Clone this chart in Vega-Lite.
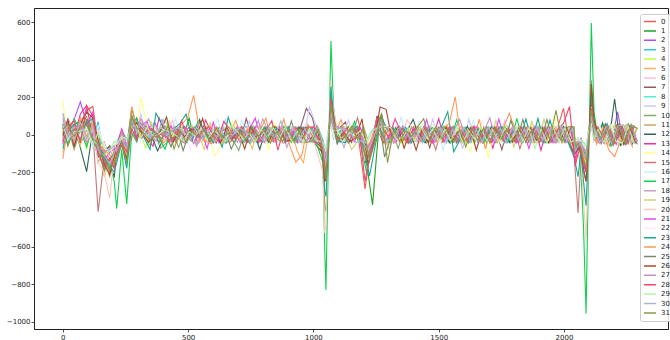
{
"$schema":"https://vega.github.io/schema/vega-lite/v6.json",
"width":634,"height":321,
"autosize":{"type":"none"},
"padding":{"left":34,"top":8,"right":2,"bottom":11},
"background":"white",
"config":{"view":{"stroke":"#222","strokeWidth":1},"font":"DejaVu Sans",
"axis":{"domainColor":"#222","tickColor":"#222","labelColor":"#222","labelFontSize":7,"tickSize":3,"labelPadding":1,"grid":false,"title":null,"domainWidth":1,"tickWidth":0.8,"format":"d"}},
"data":{"values":[
{"x":0,"0":20,"1":35,"2":-10,"3":60,"4":-30,"5":-95,"6":40,"7":10,"8":-60,"9":75,"10":15,"11":-40,"12":55,"13":-20,"14":190,"15":30,"16":-45,"17":5,"18":110,"19":-15,"20":70,"21":-50,"22":25,"23":-75,"24":-130,"25":45,"26":-5,"27":90,"28":-35,"29":50,"30":115,"31":30},
{"x":20,"0":45,"1":-20,"2":30,"3":-55,"4":60,"5":20,"6":-35,"7":75,"8":10,"9":-40,"10":50,"11":85,"12":-25,"13":40,"14":-70,"15":5,"16":60,"17":-45,"18":20,"19":-10,"20":35,"21":65,"22":-30,"23":15,"24":45,"25":-60,"26":80,"27":-15,"28":30,"29":-25,"30":10,"31":55},
{"x":45,"0":-30,"1":55,"2":80,"3":20,"4":-45,"5":70,"6":15,"7":-60,"8":40,"9":30,"10":-80,"11":25,"12":60,"13":-15,"14":45,"15":-35,"16":20,"17":85,"18":-50,"19":40,"20":-20,"21":10,"22":70,"23":55,"24":-40,"25":30,"26":-65,"27":45,"28":75,"29":15,"30":-30,"31":-10},
{"x":70,"0":60,"1":30,"2":175,"3":-25,"4":40,"5":-50,"6":85,"7":30,"8":-20,"9":65,"10":20,"11":-35,"12":-70,"13":110,"14":15,"15":50,"16":-40,"17":25,"18":80,"19":-60,"20":45,"21":30,"22":-15,"23":70,"24":90,"25":-25,"26":55,"27":35,"28":-45,"29":20,"30":65,"31":40},
{"x":95,"0":130,"1":-40,"2":60,"3":50,"4":-75,"5":25,"6":40,"7":95,"8":-30,"9":15,"10":70,"11":-20,"12":-198,"13":155,"14":-50,"15":80,"16":35,"17":-65,"18":20,"19":90,"20":-30,"21":55,"22":40,"23":60,"24":-10,"25":75,"26":120,"27":-45,"28":155,"29":30,"30":-20,"31":50},
{"x":120,"0":150,"1":80,"2":110,"3":-45,"4":60,"5":-35,"6":70,"7":-20,"8":85,"9":40,"10":-60,"11":95,"12":30,"13":-25,"14":45,"15":10,"16":-70,"17":50,"18":-15,"19":65,"20":25,"21":120,"22":-40,"23":88,"24":55,"25":-30,"26":90,"27":15,"28":100,"29":-55,"30":40,"31":-20},
{"x":141,"0":-60,"1":20,"2":-85,"3":70,"4":-110,"5":40,"6":-45,"7":-120,"8":15,"9":-90,"10":35,"11":-150,"12":-60,"13":-30,"14":-75,"15":-412,"16":50,"17":-95,"18":-40,"19":-20,"20":-150,"21":-70,"22":25,"23":-110,"24":-50,"25":-85,"26":-30,"27":-65,"28":-100,"29":10,"30":-80,"31":-45},
{"x":165,"0":-120,"1":-90,"2":-40,"3":-150,"4":-70,"5":-180,"6":-60,"7":-100,"8":-135,"9":-50,"10":-210,"11":-85,"12":-110,"13":-160,"14":-45,"15":-130,"16":-75,"17":-170,"18":-95,"19":-225,"20":-200,"21":-140,"22":-60,"23":-120,"24":-80,"25":-190,"26":-155,"27":-90,"28":-175,"29":-70,"30":-110,"31":-140},
{"x":187,"0":-200,"1":-60,"2":-130,"3":-80,"4":-170,"5":-110,"6":-150,"7":-60,"8":-95,"9":-120,"10":-70,"11":-230,"12":-140,"13":-90,"14":-160,"15":-180,"16":-100,"17":-150,"18":-75,"19":-140,"20":-340,"21":-95,"22":-120,"23":-170,"24":-110,"25":-135,"26":-215,"27":-80,"28":-125,"29":-90,"30":-160,"31":-190},
{"x":205,"0":-80,"1":-150,"2":-60,"3":-120,"4":-40,"5":-95,"6":-110,"7":-170,"8":-50,"9":-85,"10":-130,"11":-70,"12":-230,"13":-100,"14":-60,"15":-140,"16":-45,"17":-250,"18":-90,"19":-160,"20":-110,"21":-75,"22":-40,"23":-200,"24":-130,"25":-95,"26":-120,"27":-60,"28":-180,"29":-35,"30":-100,"31":-150},
{"x":215,"0":-130,"1":-90,"2":-110,"3":-70,"4":-95,"5":-60,"6":-80,"7":-120,"8":-40,"9":-100,"10":-75,"11":-140,"12":-90,"13":-60,"14":-110,"15":-50,"16":-85,"17":-395,"18":-70,"19":-130,"20":-120,"21":-95,"22":-50,"23":-150,"24":-80,"25":-110,"26":-60,"27":-90,"28":-100,"29":-45,"30":-70,"31":-120},
{"x":235,"0":-40,"1":-20,"2":-60,"3":10,"4":-30,"5":5,"6":-50,"7":-10,"8":20,"9":-45,"10":15,"11":-25,"12":-70,"13":30,"14":-15,"15":-35,"16":0,"17":-80,"18":-55,"19":-5,"20":-65,"21":25,"22":-20,"23":-40,"24":10,"25":-30,"26":-60,"27":15,"28":-45,"29":-10,"30":-25,"31":-50},
{"x":255,"0":-110,"1":-60,"2":-80,"3":-30,"4":-130,"5":-50,"6":-70,"7":-95,"8":-20,"9":-60,"10":-140,"11":-85,"12":-100,"13":-45,"14":-75,"15":-120,"16":-30,"17":-370,"18":-90,"19":-110,"20":-160,"21":-70,"22":-40,"23":-180,"24":-100,"25":-65,"26":-130,"27":-55,"28":-90,"29":-25,"30":-75,"31":-150},
{"x":275,"0":60,"1":140,"2":20,"3":45,"4":-10,"5":70,"6":30,"7":90,"8":15,"9":50,"10":110,"11":-20,"12":70,"13":35,"14":60,"15":20,"16":40,"17":10,"18":85,"19":30,"20":25,"21":65,"22":10,"23":50,"24":150,"25":95,"26":40,"27":70,"28":30,"29":45,"30":80,"31":100},
{"x":295,"0":20,"1":40,"2":85,"3":-30,"4":60,"5":10,"6":-20,"7":50,"8":75,"9":25,"10":-35,"11":80,"12":15,"13":60,"14":-10,"15":45,"16":30,"17":-40,"18":20,"19":70,"20":10,"21":-25,"22":55,"23":90,"24":40,"25":-15,"26":65,"27":25,"28":-30,"29":50,"30":15,"31":35},
{"x":311,"0":50,"1":-10,"2":30,"3":70,"4":15,"5":65,"6":40,"7":-25,"8":35,"9":110,"10":55,"11":20,"12":-15,"13":45,"14":195,"15":-20,"16":60,"17":35,"18":-5,"19":40,"20":80,"21":50,"22":-30,"23":20,"24":-10,"25":60,"26":15,"27":85,"28":40,"29":-20,"30":55,"31":25},
{"x":330,"0":-25,"4":-75,"8":-10,"12":50,"16":-35,"20":-5,"24":35,"28":15},
{"x":336,"1":12,"5":-8,"9":-5,"13":-18,"17":10,"21":70,"25":5,"29":40},
{"x":342,"2":-40,"6":22,"10":41,"14":25,"18":85,"22":2,"26":-40,"30":-10},
{"x":348,"3":15,"7":35,"11":-60,"15":45,"19":-45,"23":-80,"27":-5,"31":-30},
{"x":354,"0":8,"4":67,"8":-14,"12":-6,"16":22,"20":41,"24":-19,"28":33},
{"x":360,"1":-31,"5":15,"9":46,"13":-62,"17":4,"21":-12,"25":29,"29":-8},
{"x":366,"2":69,"6":-43,"10":7,"14":-28,"18":12,"22":35,"26":-5,"30":4},
{"x":372,"3":-9,"7":16,"11":31,"15":-20,"19":38,"23":114,"27":-33,"31":6},
{"x":378,"0":34,"4":-17,"8":5,"12":-87,"16":-48,"20":13,"24":6,"28":-11},
{"x":384,"1":21,"5":-36,"9":-7,"13":90,"17":-19,"21":8,"25":-44,"29":3},
{"x":390,"2":-15,"6":9,"10":-72,"14":47,"18":-6,"22":-8,"26":18,"30":39},
{"x":396,"3":28,"7":-41,"11":-4,"15":11,"19":-14,"23":52,"27":80,"31":-23},
{"x":402,"0":-12,"4":38,"8":79,"12":-20,"16":6,"20":-33,"24":-45,"28":17},
{"x":408,"1":44,"5":2,"9":-25,"13":16,"17":-77,"21":-10,"25":13,"29":25},
{"x":414,"2":30,"6":-19,"10":-44,"14":3,"18":41,"22":-27,"26":94,"30":-6},
{"x":420,"3":-35,"7":23,"11":12,"15":-42,"19":67,"23":-8,"27":-16,"31":49},
{"x":426,"0":16,"4":-29,"8":43,"12":9,"16":-18,"20":75,"24":-7,"28":-36},
{"x":432,"1":-5,"5":31,"9":-40,"13":-28,"17":20,"21":46,"25":-65,"29":12},
{"x":438,"2":-22,"6":77,"10":14,"14":-9,"18":-34,"22":10,"26":-48,"30":26},
{"x":444,"3":7,"7":-26,"11":39,"15":24,"19":-11,"23":33,"27":41,"31":-77},
{"x":450,"0":-38,"4":11,"8":-21,"12":35,"16":84,"20":-6,"24":19,"28":-27},
{"x":456,"1":26,"5":-44,"9":18,"13":7,"17":-31,"21":-23,"25":36,"29":-9},
{"x":462,"2":4,"6":-13,"10":-69,"14":42,"18":17,"22":-37,"26":23,"30":38},
{"x":468,"3":-24,"7":45,"11":-33,"15":-5,"19":30,"23":60,"27":-2,"31":22},
{"x":474,"0":29,"4":-40,"8":8,"12":-14,"16":-25,"20":37,"24":55,"28":74},
{"x":480,"1":-17,"5":20,"9":33,"13":-41,"17":42,"21":5,"25":-86,"29":-35},
{"x":486,"2":43,"6":-8,"10":21,"14":-30,"18":-45,"22":28,"26":-12,"30":9},
{"x":492,"3":13,"7":-32,"11":-18,"15":36,"19":-3,"23":110,"27":27,"31":-44},
{"x":498,"0":-6,"4":24,"8":-43,"12":19,"16":32,"20":-28,"24":90,"28":-20},
{"x":504,"1":88,"5":-13,"9":-2,"13":27,"17":-24,"21":39,"25":8,"29":15},
{"x":510,"2":-31,"6":29,"10":44,"14":-16,"18":6,"22":-80,"26":31,"30":-26},
{"x":516,"3":40,"7":3,"11":-36,"15":-12,"19":48,"23":-21,"27":-39,"31":18},
{"x":522,"0":21,"4":-34,"8":36,"12":-45,"16":-9,"20":15,"24":210,"28":30},
{"x":528,"1":-42,"5":26,"9":-19,"13":12,"17":35,"21":-30,"25":44,"29":-7},
{"x":534,"2":11,"6":-46,"10":-14,"14":27,"18":-63,"22":16,"26":-8,"30":42},
{"x":540,"3":-18,"7":30,"11":25,"15":-37,"19":9,"23":74,"27":-47,"31":-13},
{"x":546,"0":-30,"4":7,"8":-22,"12":80,"16":18,"20":-43,"24":20,"28":-15},
{"x":552,"1":14,"5":-38,"9":41,"13":-27,"17":-6,"21":22,"25":-19,"29":33},
{"x":558,"2":-36,"6":12,"10":26,"14":-41,"18":37,"22":-4,"26":85,"30":-22},
{"x":564,"3":35,"7":-15,"11":-29,"15":8,"19":-80,"23":19,"27":12,"31":28},
{"x":570,"0":42,"4":-21,"8":13,"12":-8,"16":-33,"20":27,"24":-36,"28":78},
{"x":576,"1":-23,"5":43,"9":-11,"13":36,"17":15,"21":-75,"25":5,"29":-29},
{"x":582,"2":25,"6":-35,"10":38,"14":6,"18":-20,"22":31,"26":-27,"30":14},
{"x":588,"3":-27,"7":18,"11":-7,"15":44,"19":63,"23":-42,"27":33,"31":-38},
{"x":594,"0":-14,"4":33,"8":-39,"12":24,"16":10,"20":-17,"24":-49,"28":6},
{"x":600,"1":30,"5":-9,"9":27,"13":-45,"17":-28,"21":66,"25":-41,"29":21},
{"x":606,"2":-7,"6":40,"10":-24,"14":-115,"18":29,"22":-33,"26":15,"30":-40},
{"x":612,"3":19,"7":-45,"11":43,"15":-19,"19":-34,"23":8,"27":-11,"31":37},
{"x":618,"0":36,"4":-26,"8":17,"12":-31,"16":83,"20":-9,"24":28,"28":-34},
{"x":624,"1":-40,"5":24,"9":-35,"13":9,"17":39,"21":-44,"25":18,"29":3},
{"x":630,"2":33,"6":-21,"10":8,"14":-60,"18":-37,"22":42,"26":-44,"30":27},
{"x":636,"3":-8,"7":37,"11":-25,"15":30,"19":16,"23":-67,"27":42,"31":-20},
{"x":642,"0":-19,"4":45,"8":-5,"12":21,"16":-28,"20":34,"24":-40,"28":71},
{"x":648,"1":17,"5":-31,"9":80,"13":-20,"17":-45,"21":7,"25":29,"29":-37},
{"x":654,"2":-44,"6":6,"10":35,"14":19,"18":22,"22":-16,"26":38,"30":-31},
{"x":660,"3":29,"7":-19,"11":-41,"15":13,"19":-36,"23":93,"27":-14,"31":9},
{"x":666,"0":26,"4":-12,"8":39,"12":-42,"16":14,"20":-38,"24":9,"28":31},
{"x":672,"1":-33,"5":41,"9":-16,"13":32,"17":23,"21":-25,"25":-77,"29":45},
{"x":678,"2":16,"6":-38,"10":-27,"14":71,"18":-11,"22":29,"26":-21,"30":-3},
{"x":684,"3":-42,"7":10,"11":34,"15":-28,"19":40,"23":-6,"27":25,"31":-46},
{"x":690,"0":-35,"4":30,"8":-28,"12":6,"16":-44,"20":20,"24":76,"28":-24},
{"x":696,"1":8,"5":-20,"9":31,"13":-39,"17":34,"21":44,"25":-12,"29":18},
{"x":702,"2":38,"6":25,"10":-85,"14":-13,"18":33,"22":-41,"26":12,"30":36},
{"x":708,"3":21,"7":-39,"11":16,"15":41,"19":-23,"23":30,"27":-44,"31":13},
{"x":714,"0":12,"4":-43,"8":24,"12":37,"16":79,"20":-31,"24":-15,"28":44},
{"x":720,"1":-28,"5":35,"9":-43,"13":14,"17":-41,"21":-8,"25":39,"29":-26},
{"x":726,"2":-23,"6":-14,"10":19,"14":30,"18":-42,"22":8,"26":-76,"30":22},
{"x":732,"3":44,"7":86,"11":-33,"15":-17,"19":11,"23":-37,"27":19,"31":-29},
{"x":738,"0":-41,"4":19,"8":-11,"12":-29,"16":-22,"20":43,"24":31,"28":-17},
{"x":744,"1":36,"5":-27,"9":72,"13":-33,"17":18,"21":27,"25":-46,"29":8},
{"x":750,"2":7,"6":43,"10":-38,"14":-24,"18":27,"22":-29,"26":41,"30":-45},
{"x":756,"3":-31,"7":-12,"11":45,"15":27,"19":-78,"23":14,"27":-28,"31":40},
{"x":762,"0":33,"4":-36,"8":45,"12":16,"16":-39,"20":-14,"24":-42,"28":25},
{"x":768,"1":-12,"5":19,"9":-29,"13":43,"17":-30,"21":88,"25":22,"29":-41},
{"x":774,"2":-39,"6":32,"10":27,"14":11,"18":-16,"22":37,"26":-19,"30":10},
{"x":780,"3":16,"7":-44,"11":-20,"15":-35,"19":43,"23":-23,"27":76,"31":-9},
{"x":786,"0":-22,"4":28,"8":-33,"12":-79,"16":36,"20":24,"24":17,"28":-38},
{"x":792,"1":41,"5":-42,"9":37,"13":-14,"17":9,"21":-40,"25":-31,"29":29},
{"x":798,"2":29,"6":-27,"10":-40,"14":36,"18":84,"22":-18,"26":26,"30":-33},
{"x":804,"3":-37,"7":33,"11":29,"15":-10,"19":-26,"23":41,"27":-43,"31":24},
{"x":810,"0":40,"4":-9,"8":22,"12":31,"16":-46,"20":-35,"24":88,"28":18},
{"x":816,"1":-19,"5":30,"9":-44,"13":26,"17":-35,"21":13,"25":43,"29":-15},
{"x":822,"2":-33,"6":38,"10":11,"14":-83,"18":7,"22":35,"26":-41,"30":41},
{"x":828,"3":28,"7":-23,"11":-38,"15":37,"19":34,"23":-16,"27":9,"31":-45},
{"x":834,"0":-27,"4":41,"8":-37,"12":8,"16":20,"20":-22,"24":-33,"28":75},
{"x":840,"1":29,"5":-15,"9":18,"13":-38,"17":44,"21":-29,"25":-22,"29":36},
{"x":846,"2":12,"6":-41,"10":34,"14":63,"18":-35,"22":-24,"26":44,"30":-14},
{"x":852,"3":-44,"7":39,"11":20,"15":-21,"19":-40,"23":31,"27":-35,"31":16},
{"x":858,"0":18,"4":-31,"8":41,"12":-26,"16":39,"20":30,"24":-12,"28":-83},
{"x":864,"1":-38,"5":44,"9":-26,"13":41,"17":-13,"21":35,"25":28,"29":-20},
{"x":870,"2":-28,"6":20,"10":-18,"14":-37,"18":38,"22":-42,"26":16,"30":73},
{"x":876,"3":37,"7":-29,"11":-44,"15":33,"19":25,"23":-11,"27":40,"31":-36},
{"x":882,"0":-44,"4":14,"8":-26,"12":43,"16":-17,"20":-41,"24":83,"28":27},
{"x":888,"1":23,"5":-34,"9":35,"13":-17,"17":31,"21":-45,"25":-40,"29":41},
{"x":894,"2":35,"6":-36,"10":43,"14":15,"18":-69,"22":26,"26":-33,"30":-27},
{"x":900,"3":-14,"7":42,"11":-31,"15":-40,"19":17,"23":38,"27":-22,"31":30},
{"x":906,"0":31,"4":-38,"8":19,"12":-34,"16":42,"20":17,"24":-60,"28":-29},
{"x":912,"1":-26,"5":25,"9":-38,"13":37,"17":-42,"21":18,"25":73,"29":-33},
{"x":918,"2":-18,"6":33,"10":-30,"14":-42,"18":21,"22":40,"26":-28,"30":45},
{"x":924,"3":41,"7":-17,"11":36,"15":18,"19":-43,"23":-27,"27":31,"31":-40},
{"x":930,"0":-24,"4":26,"8":-44,"12":21,"16":-31,"20":35,"24":-147,"28":40},
{"x":936,"1":34,"5":-90,"9":29,"13":-43,"17":36,"21":-33,"25":-28,"29":17},
{"x":942,"2":42,"6":-24,"10":16,"14":38,"18":-40,"22":-20,"26":39,"30":-36},
{"x":948,"3":-33,"7":36,"11":-15,"15":-38,"19":28,"23":43,"27":-41,"31":26},
{"x":954,"0":38,"4":-42,"8":33,"12":-27,"16":15,"20":-46,"24":-110,"28":-31},
{"x":960,"1":-41,"5":-150,"9":-22,"13":30,"17":-37,"21":40,"25":35,"29":-44},
{"x":966,"2":-29,"6":44,"10":-45,"14":-26,"18":39,"22":-34,"26":21,"30":31},
{"x":972,"3":24,"7":140,"11":42,"15":-29,"19":-33,"23":18,"27":-36,"31":-42},
{"x":978,"0":-32,"4":37,"8":-18,"12":44,"16":-40,"20":27,"24":55,"28":36},
{"x":984,"1":27,"5":25,"9":147,"13":-36,"17":41,"21":-21,"25":40,"29":33},
{"x":990,"2":36,"6":-31,"10":40,"14":33,"18":35,"22":45,"26":-27,"30":-38},
{"x":996,"3":-40,"7":90,"11":28,"15":40,"19":-42,"23":33,"27":29,"31":-33},
{"x":1002,"0":44,"4":-25,"8":40,"12":-41,"16":30,"20":-36,"24":-30,"28":42},
{"x":1008,"1":-36,"5":33,"9":60,"13":38,"17":-30,"21":-44,"25":-41,"29":-29},
{"x":1014,"2":-42,"6":26,"10":-37,"14":-33,"18":-28,"22":38,"26":45,"30":40},
{"x":1020,"3":35,"7":-38,"11":-40,"15":29,"19":37,"23":-23,"27":-33,"31":28},
{"x":1038,"0":-60,"1":-40,"2":-80,"3":-30,"4":-55,"5":-70,"6":-45,"7":-90,"8":-35,"9":-60,"10":-75,"11":-50,"12":-100,"13":-40,"14":-65,"15":-120,"16":-50,"17":-150,"18":-70,"19":-60,"20":-200,"21":-45,"22":-55,"23":-110,"24":-85,"25":-70,"26":-130,"27":-50,"28":-95,"29":-40,"30":-60,"31":-80},
{"x":1045,"0":-150,"1":-90,"2":-120,"3":-80,"4":-110,"5":-100,"6":-70,"7":-180,"8":-60,"9":-95,"10":-130,"11":-160,"12":-220,"13":-85,"14":-120,"15":-380,"16":-75,"17":-600,"18":-110,"19":-140,"20":-525,"21":-95,"22":-70,"23":-300,"24":-150,"25":-170,"26":-250,"27":-90,"28":-200,"29":-65,"30":-120,"31":-200},
{"x":1050,"0":-200,"1":-140,"2":-100,"3":-120,"4":-90,"5":-130,"6":-95,"7":-210,"8":-80,"9":-110,"10":-160,"11":-190,"12":-250,"13":-120,"14":-100,"15":-410,"16":-90,"17":-830,"18":-130,"19":-170,"20":-480,"21":-140,"22":-90,"23":-330,"24":-180,"25":-200,"26":-230,"27":-110,"28":-220,"29":-80,"30":-150,"31":-240},
{"x":1058,"0":-40,"1":-20,"2":-60,"3":0,"4":-30,"5":-15,"6":10,"7":-80,"8":20,"9":-40,"10":-50,"11":-70,"12":-100,"13":-30,"14":-10,"15":-150,"16":5,"17":-250,"18":-35,"19":-60,"20":-100,"21":-40,"22":15,"23":-120,"24":-55,"25":-75,"26":-90,"27":-25,"28":-70,"29":10,"30":-45,"31":-90},
{"x":1070,"0":120,"1":80,"2":140,"3":60,"4":90,"5":70,"6":110,"7":180,"8":50,"9":90,"10":140,"11":160,"12":200,"13":100,"14":70,"15":220,"16":60,"17":500,"18":110,"19":130,"20":285,"21":90,"22":60,"23":255,"24":150,"25":170,"26":175,"27":80,"28":190,"29":50,"30":120,"31":160},
{"x":1080,"0":40,"1":10,"2":60,"3":-20,"4":30,"5":45,"6":20,"7":70,"8":-10,"9":35,"10":55,"11":80,"12":60,"13":25,"14":-15,"15":90,"16":15,"17":150,"18":40,"19":65,"20":140,"21":30,"22":-5,"23":110,"24":70,"25":50,"26":95,"27":35,"28":80,"29":20,"30":45,"31":70},
{"x":1095,"0":-30,"1":20,"2":-45,"3":35,"4":-20,"5":10,"6":-35,"7":25,"8":40,"9":-25,"10":-40,"11":20,"12":-30,"13":45,"14":-15,"15":30,"16":-45,"17":-20,"18":35,"19":-30,"20":25,"21":-40,"22":20,"23":-35,"24":30,"25":-50,"26":-25,"27":40,"28":-20,"29":25,"30":35,"31":-30},
{"x":1110,"0":31,"4":-22,"8":14,"12":-38,"16":25,"20":-9,"24":80,"28":-17},
{"x":1116,"1":-27,"5":36,"9":-12,"13":19,"17":43,"21":-31,"25":8,"29":-40},
{"x":1122,"2":22,"6":-35,"10":41,"14":-14,"18":-68,"22":37,"26":11,"30":29},
{"x":1128,"3":-39,"7":67,"11":-25,"15":33,"19":6,"23":-43,"27":30,"31":-13},
{"x":1134,"0":-18,"4":40,"8":-33,"12":27,"16":-41,"20":15,"24":-26,"28":35},
{"x":1140,"1":42,"5":-19,"9":78,"13":-37,"17":-10,"21":24,"25":-45,"29":13},
{"x":1146,"2":-36,"6":9,"10":-23,"14":44,"18":31,"22":-20,"26":-38,"30":16},
{"x":1152,"3":26,"7":-42,"11":38,"15":-11,"19":-80,"23":21,"27":-17,"31":44},
{"x":1158,"0":45,"4":-31,"8":26,"12":-8,"16":12,"20":-44,"24":33,"28":-23},
{"x":1164,"1":-14,"5":29,"9":-40,"13":34,"17":70,"21":-36,"25":27,"29":-7},
{"x":1170,"2":18,"6":-26,"10":37,"14":-33,"18":40,"22":12,"26":-15,"30":-42},
{"x":1176,"3":-29,"7":33,"11":-19,"15":90,"19":-37,"23":45,"27":10,"31":-24},
{"x":1182,"0":-38,"4":13,"8":-42,"12":36,"16":-20,"20":30,"24":-11,"28":41},
{"x":1188,"1":25,"5":-43,"9":16,"13":-21,"17":-48,"21":33,"25":-35,"29":22},
{"x":1194,"2":-41,"6":35,"10":-12,"14":19,"18":-27,"22":-39,"26":84,"30":-30},
{"x":1200,"3":37,"7":-15,"11":43,"15":-36,"19":24,"23":-70,"27":-28,"31":32},
{"x":1206,"0":-290,"4":-95,"8":-50,"12":-150,"16":-55,"20":-140,"24":-100,"28":-250},
{"x":1212,"1":-150,"5":-45,"9":-90,"13":-80,"17":-200,"21":-85,"25":-130,"29":-50},
{"x":1218,"2":-80,"6":-70,"10":-110,"14":-40,"18":-70,"22":-45,"26":-160,"30":-90},
{"x":1224,"3":-60,"7":-130,"11":-60,"15":-120,"19":-95,"23":-220,"27":-75,"31":-140},
{"x":1230,"0":-60,"4":-20,"8":15,"12":-60,"16":10,"20":-40,"24":-30,"28":-90},
{"x":1236,"1":-375,"5":-10,"9":-30,"13":-20,"17":-60,"21":-25,"25":-50,"29":20},
{"x":1242,"2":-20,"6":15,"10":-35,"14":25,"18":-15,"22":20,"26":-40,"30":-10},
{"x":1248,"3":-15,"7":40,"11":-10,"15":-30,"19":-20,"23":-50,"27":25,"31":-25},
{"x":1254,"0":40,"4":30,"8":50,"12":100,"16":35,"20":70,"24":80,"28":90},
{"x":1260,"1":20,"5":70,"9":90,"13":55,"17":90,"21":50,"25":100,"29":40},
{"x":1266,"2":80,"6":45,"10":60,"14":40,"18":60,"22":45,"26":147,"30":75},
{"x":1272,"3":60,"7":110,"11":80,"15":75,"19":85,"23":95,"27":65,"31":110},
{"x":1278,"0":-45,"4":35,"8":20,"12":-40,"16":-25,"20":30,"24":-35,"28":25},
{"x":1284,"1":30,"5":-45,"9":-20,"13":40,"17":-35,"21":-40,"25":-120,"29":45},
{"x":1290,"2":45,"6":-30,"10":-50,"14":30,"18":40,"22":-15,"26":135,"30":-35},
{"x":1296,"3":-25,"7":-30,"11":30,"15":-45,"19":-35,"23":20,"27":30,"31":-150},
{"x":1302,"0":28,"4":-37,"8":44,"12":-24,"16":16,"20":-81,"24":35,"28":-12},
{"x":1308,"1":-33,"5":20,"9":-27,"13":42,"17":-44,"21":11,"25":-18,"29":38},
{"x":1314,"2":17,"6":-43,"10":32,"14":-39,"18":25,"22":80,"26":-28,"30":-19},
{"x":1320,"3":41,"7":-14,"11":-36,"15":23,"19":-30,"23":34,"27":-46,"31":27},
{"x":1326,"0":-42,"4":26,"8":-17,"12":38,"16":-35,"20":22,"24":-9,"28":84},
{"x":1332,"1":35,"5":-30,"9":43,"13":-12,"17":28,"21":-37,"25":24,"29":-27},
{"x":1338,"2":-24,"6":39,"10":-74,"14":14,"18":-20,"22":-31,"26":42,"30":33},
{"x":1344,"3":-16,"7":43,"11":21,"15":-40,"19":37,"23":-8,"27":29,"31":-35},
{"x":1350,"0":19,"4":-44,"8":30,"12":-31,"16":93,"20":-18,"24":-39,"28":12},
{"x":1356,"1":-40,"5":14,"9":-23,"13":36,"17":-26,"21":45,"25":33,"29":-16},
{"x":1362,"2":38,"6":-20,"10":24,"14":-45,"18":33,"22":13,"26":-72,"30":41},
{"x":1368,"3":27,"7":-38,"11":-42,"15":30,"19":-13,"23":38,"27":-21,"31":19},
{"x":1374,"0":-31,"4":35,"8":-40,"12":20,"16":-27,"20":79,"24":25,"28":-44},
{"x":1380,"1":22,"5":-33,"9":38,"13":-42,"17":16,"21":-27,"25":-46,"29":35},
{"x":1386,"2":-45,"6":27,"10":-15,"14":34,"18":-41,"22":-76,"26":18,"30":-24},
{"x":1392,"3":-37,"7":18,"11":33,"15":-25,"19":42,"23":-43,"27":39,"31":-10},
{"x":1398,"0":43,"4":-19,"8":14,"12":81,"16":-38,"20":26,"24":-30,"28":33},
{"x":1404,"1":-18,"5":42,"9":-31,"13":25,"17":-40,"21":33,"25":12,"29":-37},
{"x":1410,"2":26,"6":-41,"10":40,"14":-20,"18":31,"22":-25,"26":-83,"30":21},
{"x":1416,"3":34,"7":-27,"11":-26,"15":44,"19":-19,"23":20,"27":-36,"31":42},
{"x":1422,"0":-26,"4":40,"8":-35,"12":-13,"16":72,"20":-43,"24":37,"28":-21},
{"x":1428,"1":39,"5":-24,"9":20,"13":-36,"17":34,"21":-14,"25":-30,"29":44},
{"x":1434,"2":-32,"6":30,"10":-42,"14":39,"18":-17,"22":42,"26":28,"30":-40},
{"x":1440,"3":-20,"7":41,"11":37,"15":-33,"19":27,"23":-34,"27":-12,"31":85},
{"x":1446,"0":36,"4":-33,"8":27,"12":-44,"16":40,"20":18,"24":-25,"28":39},
{"x":1452,"1":-43,"5":17,"9":-37,"13":28,"17":-22,"21":81,"25":36,"29":-19},
{"x":1458,"2":21,"6":-38,"10":33,"14":-27,"18":44,"22":-30,"26":-41,"30":14},
{"x":1464,"3":40,"7":-71,"11":-30,"15":16,"19":-42,"23":29,"27":43,"31":-33},
{"x":1470,"0":-14,"4":44,"8":-41,"12":31,"16":-33,"20":-28,"24":20,"28":-42},
{"x":1476,"1":28,"5":-39,"9":83,"13":-18,"17":37,"21":-44,"25":-24,"29":31},
{"x":1482,"2":-40,"6":25,"10":-19,"14":42,"18":-36,"22":35,"26":30,"30":-27},
{"x":1488,"3":-33,"7":36,"11":24,"15":-81,"19":19,"23":-20,"27":-38,"31":40},
{"x":1494,"0":33,"4":-27,"8":38,"12":-22,"16":29,"20":43,"24":-44,"28":18},
{"x":1500,"1":-35,"5":31,"9":-26,"13":85,"17":-17,"21":22,"25":40,"29":-38},
{"x":1506,"2":42,"6":-34,"10":31,"14":-16,"18":25,"22":-42,"26":-20,"30":37},
{"x":1512,"3":23,"7":-43,"11":-37,"15":35,"19":-28,"23":45,"27":33,"31":-21},
{"x":1518,"0":-40,"4":20,"8":-29,"12":41,"16":-84,"20":-13,"24":36,"28":-32},
{"x":1524,"1":18,"5":-41,"9":36,"13":-30,"17":43,"21":-35,"25":-19,"29":27},
{"x":1530,"2":-27,"6":43,"10":-40,"14":29,"18":-21,"22":34,"26":41,"30":-44},
{"x":1536,"3":-35,"7":29,"11":42,"15":-24,"19":38,"23":122,"27":-27,"31":33},
{"x":1542,"0":27,"4":-39,"8":21,"12":-43,"16":35,"20":31,"24":60,"28":40},
{"x":1548,"1":-44,"5":24,"9":-38,"13":18,"17":-27,"21":40,"25":29,"29":-31},
{"x":1554,"2":35,"6":-22,"10":44,"14":-36,"18":30,"22":-19,"26":-37,"30":26},
{"x":1560,"3":30,"7":-40,"11":-28,"15":43,"19":-16,"23":-92,"27":20,"31":-39},
{"x":1566,"0":-29,"4":41,"8":-42,"12":25,"16":-20,"20":-36,"24":202,"28":-26},
{"x":1572,"1":37,"5":-31,"9":27,"13":-44,"17":79,"21":-23,"25":-41,"29":42},
{"x":1578,"2":-38,"6":36,"10":-25,"14":33,"18":-43,"22":44,"26":19,"30":-17},
{"x":1584,"3":-22,"7":19,"11":39,"15":-37,"19":31,"23":-30,"27":81,"31":28},
{"x":1590,"0":42,"4":-15,"8":33,"12":-29,"16":24,"20":38,"24":-40,"28":21},
{"x":1596,"1":-25,"5":43,"9":-76,"13":31,"17":-42,"21":16,"25":34,"29":-43},
{"x":1602,"2":29,"6":-44,"10":18,"14":-40,"18":36,"22":-27,"26":-33,"30":39},
{"x":1608,"3":38,"7":-32,"11":-43,"15":22,"19":-39,"23":35,"27":-20,"31":-66},
{"x":1614,"0":-37,"4":28,"8":-20,"12":44,"16":-31,"20":-42,"24":26,"28":-35},
{"x":1620,"1":31,"5":-26,"9":82,"13":-21,"17":28,"21":-38,"25":-45,"29":19},
{"x":1626,"2":-19,"6":31,"10":-34,"14":-92,"18":-24,"22":40,"26":37,"30":-41},
{"x":1632,"3":-41,"7":40,"11":26,"15":-28,"19":42,"23":-18,"27":33,"31":36},
{"x":1638,"0":25,"4":-41,"8":44,"12":-17,"16":78,"20":23,"24":-29,"28":43},
{"x":1644,"1":-40,"5":20,"9":-19,"13":38,"17":-33,"21":44,"25":27,"29":-25},
{"x":1650,"2":41,"6":-28,"10":29,"14":32,"18":19,"22":-35,"26":-83,"30":26},
{"x":1656,"3":19,"7":-36,"11":-40,"15":41,"19":-25,"23":30,"27":-38,"31":-31},
{"x":1662,"0":-33,"4":37,"8":-26,"12":30,"16":-42,"20":-18,"24":82,"28":-22},
{"x":1668,"1":27,"5":-43,"9":34,"13":-36,"17":41,"21":-26,"25":-31,"29":40},
{"x":1674,"2":-43,"6":26,"10":-41,"14":40,"18":-30,"22":76,"26":24,"30":-38},
{"x":1680,"3":-28,"7":42,"11":35,"15":-32,"19":33,"23":-44,"27":16,"31":37},
{"x":1686,"0":39,"4":-20,"8":36,"12":-40,"16":27,"20":41,"24":-76,"28":18},
{"x":1692,"1":-31,"5":38,"9":-27,"13":24,"17":-44,"21":19,"25":43,"29":-34},
{"x":1698,"2":33,"6":-37,"10":21,"14":-125,"18":40,"22":-31,"26":-20,"30":42},
{"x":1704,"3":36,"7":-25,"11":-38,"15":18,"19":-41,"23":27,"27":90,"31":-44},
{"x":1710,"0":-42,"4":33,"8":-30,"12":44,"16":-26,"20":-37,"24":29,"28":-41},
{"x":1716,"1":40,"5":-29,"9":43,"13":-73,"17":30,"21":-41,"25":-24,"29":25},
{"x":1722,"2":-24,"6":42,"10":-39,"14":27,"18":-37,"22":25,"26":38,"30":-30},
{"x":1728,"3":-39,"7":30,"11":29,"15":-43,"19":76,"23":-20,"27":-34,"31":41},
{"x":1734,"0":26,"4":-44,"8":41,"12":-21,"16":35,"20":32,"24":-40,"28":28},
{"x":1740,"1":-35,"5":22,"9":-33,"13":41,"17":-20,"21":83,"25":35,"29":-42},
{"x":1746,"2":43,"6":-33,"10":25,"14":-38,"18":26,"22":-43,"26":-27,"30":35},
{"x":1752,"3":21,"7":-81,"11":-34,"15":37,"19":-32,"23":41,"27":26,"31":-24},
{"x":1758,"0":-36,"4":29,"8":-43,"12":35,"16":-38,"20":-25,"24":37,"28":-33},
{"x":1764,"1":32,"5":-40,"9":77,"13":-25,"17":44,"21":-30,"25":-43,"29":36},
{"x":1770,"2":-27,"6":39,"10":-30,"14":43,"18":-42,"22":33,"26":30,"30":-43},
{"x":1776,"3":-42,"7":35,"11":44,"15":-27,"19":39,"23":-38,"27":-21,"31":30},
{"x":1782,"0":35,"4":-24,"8":28,"12":-42,"16":29,"20":40,"24":114,"28":26},
{"x":1788,"1":-43,"5":31,"9":-41,"13":30,"17":-36,"21":26,"25":78,"29":-29},
{"x":1794,"2":30,"6":-42,"10":39,"14":-35,"18":33,"22":-22,"26":-39,"30":42},
{"x":1800,"3":28,"7":-29,"11":-36,"15":42,"19":-67,"23":34,"27":41,"31":-38},
{"x":1806,"0":-41,"4":36,"8":-31,"12":24,"16":-43,"20":-29,"24":22,"28":-40},
{"x":1812,"1":37,"5":-36,"9":34,"13":-40,"17":87,"21":-43,"25":-28,"29":41},
{"x":1818,"2":-36,"6":28,"10":-44,"14":38,"18":-29,"22":39,"26":35,"30":-26},
{"x":1824,"3":-30,"7":43,"11":30,"15":-76,"19":41,"23":-27,"27":-42,"31":33},
{"x":1830,"0":27,"4":-38,"8":40,"12":-27,"16":37,"20":26,"24":-33,"28":39},
{"x":1836,"1":-28,"5":40,"9":-38,"13":35,"17":-41,"21":30,"25":81,"29":-33},
{"x":1842,"2":40,"6":-27,"10":32,"14":-41,"18":36,"22":-36,"26":-25,"30":30},
{"x":1848,"3":37,"7":-40,"11":-29,"15":28,"19":-35,"23":83,"27":27,"31":-41},
{"x":1854,"0":-43,"4":30,"8":-35,"12":42,"16":-28,"20":-41,"24":38,"28":-27},
{"x":1860,"1":34,"5":-43,"9":42,"13":-28,"17":35,"21":-75,"25":-40,"29":37},
{"x":1866,"2":-31,"6":38,"10":-26,"14":33,"18":-43,"22":27,"26":36,"30":-44},
{"x":1872,"3":-25,"7":33,"11":41,"15":-42,"19":70,"23":-31,"27":-36,"31":27},
{"x":1878,"0":30,"4":-35,"8":37,"12":-31,"16":41,"20":35,"24":-42,"28":32},
{"x":1884,"1":-42,"5":29,"9":-33,"13":40,"17":-30,"21":42,"25":30,"29":-76},
{"x":1890,"2":36,"6":-41,"10":43,"14":-29,"18":27,"22":-40,"26":-31,"30":41},
{"x":1896,"3":42,"7":-29,"11":-41,"15":35,"19":-37,"23":86,"27":42,"31":-30},
{"x":1902,"0":-35,"4":42,"8":-27,"12":30,"16":-40,"20":-33,"24":29,"28":-43},
{"x":1908,"1":31,"5":-37,"9":40,"13":-84,"17":42,"21":-28,"25":-35,"29":30},
{"x":1914,"2":-26,"6":35,"10":-38,"14":41,"18":-33,"22":40,"26":37,"30":-28},
{"x":1920,"3":-40,"7":38,"11":32,"15":-30,"19":83,"23":-42,"27":-29,"31":36},
{"x":1926,"0":41,"4":-32,"8":35,"12":-40,"16":28,"20":42,"24":-37,"28":34},
{"x":1932,"1":-38,"5":42,"9":-29,"13":37,"17":-43,"21":31,"25":80,"29":-41},
{"x":1938,"2":33,"6":-30,"10":41,"14":-36,"18":39,"22":-29,"26":-44,"30":35},
{"x":1944,"3":29,"7":-43,"11":-35,"15":40,"19":-31,"23":78,"27":33,"31":-27},
{"x":1950,"0":-30,"4":37,"8":-42,"12":29,"16":-36,"20":-27,"24":40,"28":-38},
{"x":1956,"1":40,"5":-31,"9":36,"13":-30,"17":33,"21":-44,"25":-32,"29":42},
{"x":1962,"2":-42,"6":41,"10":-31,"14":100,"18":-40,"22":35,"26":30,"30":-37},
{"x":1968,"3":-33,"7":30,"11":43,"15":-44,"19":37,"23":-35,"27":-40,"31":130},
{"x":1974,"0":36,"4":-41,"8":29,"12":-33,"16":42,"20":30,"24":-35,"28":25},
{"x":1980,"1":-37,"5":35,"9":-44,"13":41,"17":-29,"21":40,"25":36,"29":-33},
{"x":1986,"2":31,"6":-36,"10":42,"14":-40,"18":35,"22":-41,"26":-27,"30":44},
{"x":1992,"3":40,"7":-35,"11":-30,"15":36,"19":-42,"23":32,"27":38,"31":-41},
{"x":1998,"0":140,"4":31,"8":-38,"12":43,"16":-30,"20":-42,"24":33,"28":60},
{"x":2004,"1":35,"5":-40,"9":41,"13":-33,"17":38,"21":-30,"25":-42,"29":36},
{"x":2010,"2":-29,"6":43,"10":-34,"14":38,"18":-41,"22":36,"26":40,"30":-31},
{"x":2016,"3":-44,"7":27,"11":37,"15":-30,"19":34,"23":-38,"27":-33,"31":42},
{"x":2022,"0":-60,"4":-36,"8":28,"12":-45,"16":40,"20":33,"24":-40,"28":150},
{"x":2028,"1":-40,"5":42,"9":-45,"13":35,"17":-42,"21":41,"25":39,"29":-38},
{"x":2034,"2":36,"6":-33,"10":40,"14":-38,"18":33,"22":-36,"26":-45,"30":35},
{"x":2040,"3":-50,"7":38,"11":-30,"15":-90,"19":40,"23":-120,"27":-40,"31":42},
{"x":2045,"0":-110,"1":-60,"2":-30,"3":-90,"4":-20,"5":-70,"6":-40,"7":-100,"8":-50,"9":-80,"10":-60,"11":-90,"12":-120,"13":-140,"14":-40,"15":-200,"16":-30,"17":-50,"18":-70,"19":-90,"20":-110,"21":-150,"22":-35,"23":-150,"24":-60,"25":-80,"26":-100,"27":-45,"28":-170,"29":-30,"30":-90,"31":-60},
{"x":2056,"0":-50,"1":-20,"2":-70,"3":-40,"4":-60,"5":-30,"6":-80,"7":-40,"8":-20,"9":-60,"10":-35,"11":-50,"12":-80,"13":-60,"14":-30,"15":-418,"16":-45,"17":-70,"18":-40,"19":-55,"20":-90,"21":-60,"22":-20,"23":-225,"24":-45,"25":-50,"26":-70,"27":-35,"28":-100,"29":-25,"30":-60,"31":-50},
{"x":2068,"0":-70,"1":-40,"2":-20,"3":-60,"4":-30,"5":-50,"6":-40,"7":-80,"8":-50,"9":-30,"10":-70,"11":-40,"12":-60,"13":-90,"14":-45,"15":-120,"16":-30,"17":-200,"18":-55,"19":-40,"20":-150,"21":-70,"22":-35,"23":-90,"24":-60,"25":-40,"26":-100,"27":-50,"28":-80,"29":-30,"30":-45,"31":-70},
{"x":2078,"0":-120,"1":-80,"2":-60,"3":-100,"4":-50,"5":-90,"6":-70,"7":-130,"8":-40,"9":-90,"10":-110,"11":-80,"12":-140,"13":-100,"14":-60,"15":-200,"16":-55,"17":-500,"18":-90,"19":-120,"20":-350,"21":-150,"22":-50,"23":-250,"24":-110,"25":-90,"26":-180,"27":-70,"28":-160,"29":-45,"30":-100,"31":-140},
{"x":2088,"0":-140,"1":-100,"2":-80,"3":-130,"4":-70,"5":-110,"6":-90,"7":-180,"8":-60,"9":-120,"10":-150,"11":-110,"12":-200,"13":-140,"14":-80,"15":-250,"16":-70,"17":-957,"18":-120,"19":-150,"20":-563,"21":-180,"22":-60,"23":-380,"24":-130,"25":-120,"26":-250,"27":-90,"28":-200,"29":-60,"30":-120,"31":-170},
{"x":2098,"0":-20,"1":0,"2":20,"3":-30,"4":10,"5":-10,"6":30,"7":-40,"8":15,"9":-20,"10":-30,"11":10,"12":-50,"13":-20,"14":15,"15":-60,"16":20,"17":-180,"18":-10,"19":-30,"20":-120,"21":-20,"22":25,"23":-80,"24":-15,"25":-10,"26":-60,"27":5,"28":-40,"29":20,"30":-25,"31":-35},
{"x":2109,"0":110,"1":70,"2":80,"3":50,"4":60,"5":90,"6":70,"7":180,"8":40,"9":80,"10":120,"11":100,"12":150,"13":90,"14":60,"15":290,"16":50,"17":596,"18":100,"19":110,"20":148,"21":90,"22":50,"23":220,"24":130,"25":120,"26":270,"27":80,"28":140,"29":45,"30":100,"31":130},
{"x":2120,"0":30,"1":-20,"2":40,"3":-35,"4":25,"5":45,"6":-30,"7":60,"8":-15,"9":35,"10":50,"11":-25,"12":40,"13":20,"14":-30,"15":70,"16":-20,"17":120,"18":35,"19":50,"20":40,"21":25,"22":-35,"23":60,"24":45,"25":-30,"26":80,"27":40,"28":50,"29":-25,"30":30,"31":45},
{"x":2130,"0":-38,"4":-22,"8":31,"12":-47,"16":12,"20":-51,"24":-50,"28":44},
{"x":2136,"1":33,"5":-18,"9":-36,"13":-41,"17":-27,"21":28,"25":39,"29":26},
{"x":2142,"2":-29,"6":45,"10":-43,"14":38,"18":-44,"22":47,"26":-33,"30":-40},
{"x":2148,"3":47,"7":-48,"11":34,"15":-30,"19":36,"23":-27,"27":-38,"31":-24},
{"x":2154,"0":48,"4":51,"8":-38,"12":62,"16":-34,"20":36,"24":30,"28":-31},
{"x":2160,"1":-45,"5":33,"9":47,"13":42,"17":52,"21":-46,"25":-35,"29":-43},
{"x":2166,"2":57,"6":-47,"10":32,"14":-37,"18":48,"22":-33,"26":53,"30":41},
{"x":2172,"3":-33,"7":44,"11":-52,"15":47,"19":-42,"23":58,"27":46,"31":38},
{"x":2178,"0":-52,"4":-41,"8":46,"12":-48,"16":37,"20":-53,"24":-80,"28":39},
{"x":2184,"1":32,"5":-61,"9":-33,"13":-37,"17":-58,"21":43,"25":31,"29":47},
{"x":2190,"2":-46,"6":36,"10":-45,"14":52,"18":-47,"22":42,"26":-57,"30":-52},
{"x":2196,"3":41,"7":-56,"11":42,"15":-42,"19":31,"23":-43,"27":-40,"31":-47},
{"x":2202,"0":43,"4":56,"8":-34,"12":190,"16":-41,"20":44,"24":-118,"28":-45},
{"x":2208,"1":-47,"5":38,"9":52,"13":48,"17":47,"21":-52,"25":-33,"29":-38},
{"x":2214,"2":122,"6":-52,"10":38,"14":-31,"18":53,"22":-37,"26":57,"30":47},
{"x":2220,"3":-52,"7":53,"11":-36,"15":41,"19":-46,"23":51,"27":42,"31":45},
{"x":2226,"0":-41,"4":-45,"8":51,"12":-62,"16":46,"20":-37,"24":-31,"28":48},
{"x":2232,"1":46,"5":-35,"9":-44,"13":-46,"17":-41,"21":45,"25":42,"29":-47},
{"x":2238,"2":-48,"6":41,"10":-52,"14":40,"18":-38,"22":-45,"26":-51,"30":52},
{"x":2244,"3":43,"7":-47,"11":48,"15":-54,"19":44,"23":-49,"27":-38,"31":-43},
{"x":2250,"0":52,"4":41,"8":-37,"12":44,"16":-40,"20":52,"24":38,"28":-50},
{"x":2256,"1":-37,"5":52,"9":55,"13":37,"17":56,"21":-36,"25":-48,"29":41},
{"x":2262,"2":47,"6":-49,"10":43,"14":-51,"18":42,"22":49,"26":45,"30":-37},
{"x":2268,"3":-51,"7":41,"11":-50,"15":47,"19":-40,"23":46,"27":55,"31":52},
{"x":2274,"0":-33,"4":-44,"8":40,"12":-53,"16":50,"20":-39,"24":-70,"28":41},
{"x":2280,"1":40,"5":-30,"9":-41,"13":-42,"17":-45,"21":50,"25":45,"29":-44},
{"x":2286,"2":-42,"6":47,"10":-46,"14":45,"18":-36,"22":-45,"26":-45,"30":-48},
{"x":2292,"3":36,"7":-52,"11":35,"15":-36,"19":42,"23":-36,"27":-40,"31":33}
]},
"transform":[{"fold":["0","1","2","3","4","5","6","7","8","9","10","11","12","13","14","15","16","17","18","19","20","21","22","23","24","25","26","27","28","29","30","31"],"as":["s","y"]},{"filter":{"field":"y","valid":true}}],
"mark":{"type":"line","strokeWidth":1.1,"clip":true},
"encoding":{
"x":{"field":"x","type":"quantitative","scale":{"domain":[-115,2415],"nice":false,"zero":false},"axis":{"values":[0,500,1000,1500,2000]}},
"y":{"field":"y","type":"quantitative","scale":{"domain":[-1038,676],"nice":false,"zero":false},"axis":{"values":[-1000,-800,-600,-400,-200,0,200,400,600]}},
"color":{"field":"s","type":"nominal",
"scale":{"domain":["0","1","2","3","4","5","6","7","8","9","10","11","12","13","14","15","16","17","18","19","20","21","22","23","24","25","26","27","28","29","30","31"],
"range":["#ee5a55","#22a022","#b050f0","#30c8e0","#b8ff50","#f8b060","#ffc0d8","#905c5c","#50f0d0","#c8c8ff","#88aa70","#c8a868","#2f6656","#e830a8","#ffff88","#c87878","#c8ecff","#10d050","#c8a0c8","#d8d070","#ffc8b8","#e848e8","#ffe8ff","#18a890","#ff9858","#7a8868","#a84828","#c890c8","#f04870","#b8f0a8","#a8b8d0","#889848"]},
"legend":{"title":null,"orient":"none","legendX":606,"legendY":6,"symbolLimit":0,"symbolType":"stroke","symbolSize":144,"symbolStrokeWidth":1.5,"labelFontSize":7,"labelOffset":4,"rowPadding":0.4,"clipHeight":9,"padding":3,"fillColor":"rgba(255,255,255,0.85)","strokeColor":"#ccc","cornerRadius":2,"labelColor":"#222","symbolOpacity":1}}
}
}
